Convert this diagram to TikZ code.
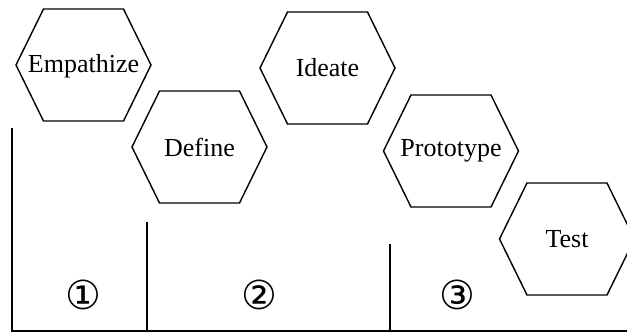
\documentclass[tikz,border=0pt]{standalone}
\usepackage{fontspec}
\setmainfont{Liberation Serif}
\newfontfamily\circfont{DejaVu Sans}
\begin{document}
\begin{tikzpicture}[x=1pt,y=-1pt,
  lbl/.style={font=\fontsize{26}{26}\selectfont, inner sep=0pt},
  num/.style={font=\circfont\fontsize{40}{40}\selectfont, inner sep=0pt},
  hexline/.style={line width=1.4pt, line join=miter},
  rule/.style={line width=1.4pt}]
\useasboundingbox (0,0) rectangle (627,332);
\clip (0,0) rectangle (627,332);
\def\hexpath{(-67.5,0) -- (-40,56) -- (40,56) -- (67.5,0) -- (40,-56) -- (-40,-56) -- cycle}
\node[lbl] (emp) at (83.5,66) {Empathize};
\node[lbl] (def) at (199.5,147) {Define};
\node[lbl] (ide) at (327.5,68) {Ideate};
\node[lbl] (pro) at (451,151) {Prototype};
\node[lbl] (tst) at (567,239) {Test};
\foreach \n/\c in {emp/{83.5,65},def/{199.5,147},ide/{327.5,68},pro/{451,151},tst/{567,239}}{
  \draw[hexline, shift={(\c)}] \hexpath;
}
\node[num] (n1) at (83,295) {①};
\node[num] (n2) at (259,295) {②};
\node[num] (n3) at (457,295) {③};
\coordinate (a0) at (12,128);
\coordinate (a1) at (12,331);
\coordinate (a2) at (627,331);
\coordinate (b0) at (147,222);
\coordinate (b1) at (147,331);
\coordinate (c0) at (390,244);
\coordinate (c1) at (390,331);
\draw[rule] (a0) -- (a1) -- (a2);
\draw[rule] (b0) -- (b1);
\draw[rule] (c0) -- (c1);
\end{tikzpicture}
\end{document}
